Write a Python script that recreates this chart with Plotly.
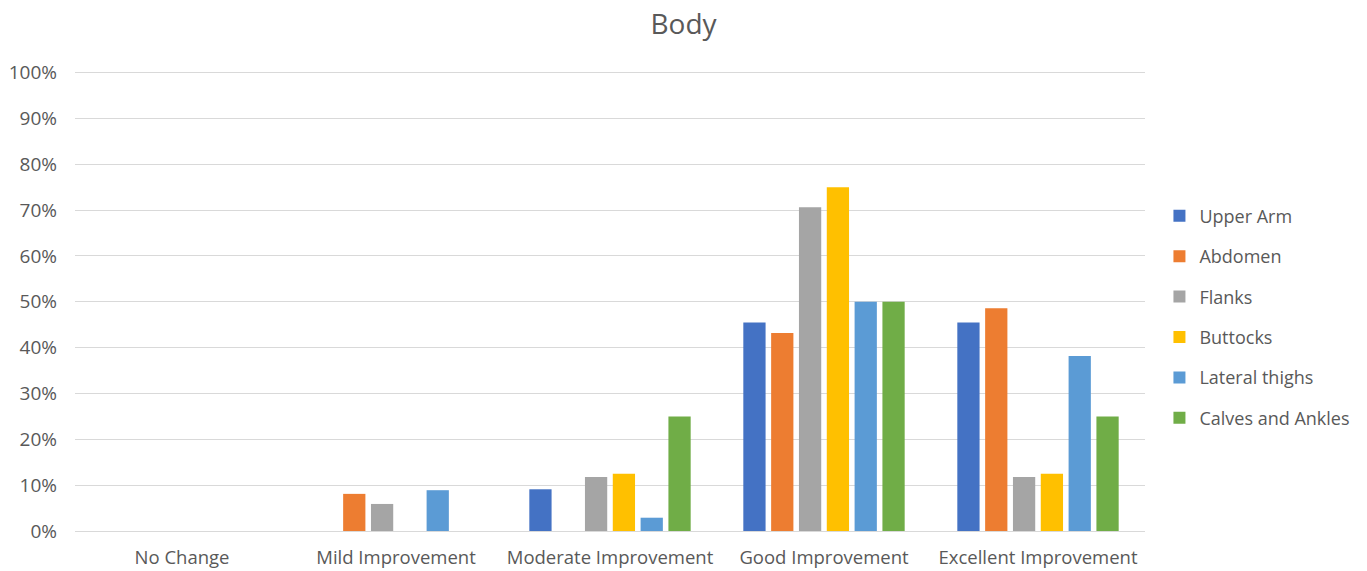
import plotly.graph_objects as go

categories = ["No Change", "Mild Improvement", "Moderate Improvement", "Good Improvement", "Excellent Improvement"]
series_names = ["Upper Arm", "Abdomen", "Flanks", "Buttocks", "Lateral thighs", "Calves and Ankles"]
upper_arm = [0, 0, 0.091, 0.455, 0.455]
abdomen = [0, 0.081, 0, 0.432, 0.486]
flanks = [0, 0.059, 0.118, 0.706, 0.118]
buttocks = [0, 0, 0.125, 0.75, 0.125]
lateral_thighs = [0, 0.089, 0.029, 0.50, 0.382]
calves_ankles = [0, 0, 0.25, 0.50, 0.25]
y_ticks = [0, 0.1, 0.2, 0.3, 0.4, 0.5, 0.6, 0.7, 0.8, 0.9, 1.0]

values = [upper_arm, abdomen, flanks, buttocks, lateral_thighs, calves_ankles]
colors = ["#4472C4", "#ED7D31", "#A5A5A5", "#FFC000", "#5B9BD5", "#70AD47"]

fig = go.Figure()
for name, vals, col in zip(series_names, values, colors):
    fig.add_trace(go.Bar(name=name, x=categories, y=vals, marker_color=col,
                         marker_line_width=0, legendgroup=name))

font_col = "#595959"
fam = "Open Sans, Liberation Sans, sans-serif"
fig.update_layout(
    width=1367, height=571,
    margin=dict(l=75, r=222, t=68, b=40, autoexpand=False),
    paper_bgcolor="white", plot_bgcolor="white",
    title=dict(text="Body", x=0.5, xref="container", xanchor="center", y=0.958, yanchor="middle",
               font=dict(family=fam, size=28, color=font_col)),
    barmode="group", bargap=0.22, bargroupgap=0.2,
    font=dict(family=fam, size=18, color=font_col),
    legend=dict(x=1.0135, xanchor="left", y=0.462, yanchor="middle",
                font=dict(size=18, color=font_col), tracegroupgap=14,
                traceorder="grouped", itemwidth=30),
    showlegend=True,
)
fig.update_xaxes(showgrid=False, showline=True, linecolor="#D9D9D9", linewidth=1,
                 ticks="", tickfont=dict(size=18.5, color=font_col), ticklabelstandoff=10)
fig.update_yaxes(range=[0, 1.01], tickvals=y_ticks, tickformat=".0%",
                 showgrid=True, gridcolor="#D9D9D9", gridwidth=1, zeroline=False,
                 ticks="", tickfont=dict(size=19, color=font_col), ticklabelstandoff=17)

fig.write_html("out.html")
